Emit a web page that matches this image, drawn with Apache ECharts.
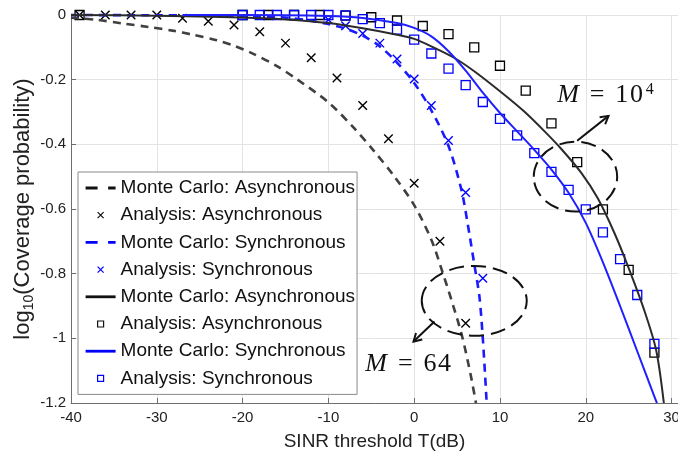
<!DOCTYPE html>
<html><head><meta charset="utf-8">
<script src="https://cdn.jsdelivr.net/npm/echarts/dist/echarts.min.js"></script>
<style>html,body{margin:0;padding:0;background:#fff}#c{width:678px;height:458px}</style>
</head><body><div id="c"></div>
<script>
// ---------------- data ----------------
// Monte Carlo, Asynchronous, M = 64 (black dashed)
const mcAsync64X = [-40, -37, -34, -31, -28, -26, -23, -21, -19, -16, -13.6, -10, -7, -4.7, -2.3, 0, 2, 3.3, 4.5, 5.6, 6.6, 7.2];
const mcAsync64Y = [-0.008, -0.015, -0.026, -0.037, -0.049, -0.06, -0.078, -0.095, -0.117, -0.158, -0.2, -0.27, -0.35, -0.42, -0.5, -0.588, -0.695, -0.795, -0.895, -0.995, -1.115, -1.2];
// Analysis, Asynchronous, M = 64 (black x)
const anAsync64X = [-39, -36, -33, -30, -27, -24, -21, -18, -15, -12, -9, -6, -3, 0, 3, 6];
const anAsync64Y = [0, 0, 0, 0, -0.010, -0.019, -0.031, -0.052, -0.087, -0.132, -0.195, -0.280, -0.383, -0.520, -0.700, -0.953];
// Monte Carlo, Synchronous, M = 64 (blue dashed)
const mcSync64X = [-40, -30, -20, -15, -12, -10, -8, -6, -4, -2, 0, 2, 4, 5.5, 6.2, 7, 7.6, 8, 8.45];
const mcSync64Y = [0, -0.001, -0.003, -0.008, -0.018, -0.028, -0.042, -0.064, -0.097, -0.147, -0.21, -0.295, -0.405, -0.54, -0.64, -0.77, -0.87, -1.0, -1.2];
// Analysis, Synchronous, M = 64 (blue x)
const anSync64X = [-10, -8, -6, -4, -2, 0, 2, 4, 6, 8];
const anSync64Y = [-0.015, -0.033, -0.057, -0.087, -0.136, -0.198, -0.280, -0.388, -0.549, -0.814];
// Monte Carlo, Asynchronous, M = 10^4 (black solid)
const mcAsyncBigX = [-40, -30, -20, -15, -10, -6, -2, 0, 2, 4.7, 7, 10, 12.8, 15.2, 17.1, 19.5, 21.4, 23.3, 24.9, 26.8, 28.2, 29.1];
const mcAsyncBigY = [0, -0.002, -0.008, -0.014, -0.025, -0.041, -0.061, -0.074, -0.097, -0.133, -0.174, -0.236, -0.298, -0.36, -0.413, -0.489, -0.567, -0.672, -0.776, -0.912, -1.036, -1.2];
// Analysis, Asynchronous, M = 10^4 (black squares)
const anAsyncBigX = [-39, -20, -17, -14, -11, -8, -5, -2, 1, 4, 7, 10, 13, 16, 19, 22, 25, 28];
const anAsyncBigY = [0, 0, 0, 0, 0, -0.002, -0.007, -0.017, -0.034, -0.059, -0.100, -0.157, -0.234, -0.335, -0.455, -0.601, -0.788, -1.044];
// Monte Carlo, Synchronous, M = 10^4 (blue solid)
const mcSyncBigX = [-27, -20, -10, -6, -2, 0, 2, 4, 6, 8, 10, 12, 14, 16, 18, 20, 22, 24, 26, 28, 28.3];
const mcSyncBigY = [0, 0, -0.003, -0.009, -0.025, -0.04, -0.066, -0.112, -0.172, -0.24, -0.303, -0.36, -0.417, -0.478, -0.55, -0.643, -0.765, -0.9, -1.04, -1.18, -1.2];
// Analysis, Synchronous, M = 10^4 (blue squares)
const anSyncBigX = [-20, -18, -16, -14, -12, -10, -8, -6, -4, -2, 0, 2, 4, 6, 8, 10, 12, 14, 16, 18, 20, 22, 24, 26, 28];
const anSyncBigY = [0, 0, 0, 0, 0, 0, -0.001, -0.013, -0.025, -0.045, -0.076, -0.119, -0.166, -0.217, -0.269, -0.321, -0.372, -0.427, -0.485, -0.541, -0.601, -0.672, -0.755, -0.866, -1.017];

// legend labels (in legend order)
const legendKeys = ['k1', 'k2', 'k3', 'k4', 'k5', 'k6', 'k7', 'k8'];
const legendLabels = ['Monte Carlo: Asynchronous', 'Analysis: Asynchronous', 'Monte Carlo: Synchronous', 'Analysis: Synchronous',
                      'Monte Carlo: Asynchronous', 'Analysis: Asynchronous', 'Monte Carlo: Synchronous', 'Analysis: Synchronous'];
const xTicks = { min: -40, max: 30.75, step: 10 };
const yTicks = { min: -1.2, max: 0, step: 0.2 };

// ---------------- styles ----------------
const FONT = 'Liberation Sans, Arial, sans-serif';
const BLK_D = '#404040', BLUE_D = '#1a1aff', BLK_S = '#2b2b2b', BLUE_S = '#2020ff';
const BLK_M = '#000000', BLUE_M = '#0000ff';
const X_PATH = 'path://M0,0L10,10M10,0L0,10';
const ICON_DASH = 'path://M0,0M30,14M0,5.6h12v2.8h-12zM22.5,5.6h7.5v2.8h-7.5z';
const ICON_SOLID = 'path://M0,0M30,14M0,5.6h30v2.8h-30z';
const ICON_X = 'path://M0,0M30,14M12,4L18,10M18,4L12,10';
const ICON_SQ = 'path://M0,0M30,14M12,4L18,4L18,10L12,10Z';

const zip = (xs, ys) => xs.map((x, i) => [x, ys[i]]);

function lineSeries(name, xs, ys, color, dashed, width) {
  return {
    name, type: 'line', data: zip(xs, ys), symbol: 'none', showSymbol: false,
    smooth: 0.3, clip: false, animation: false, silent: true,
    color: color, itemStyle: { color: color },
    lineStyle: { color: color, width: width, type: dashed ? [8, 6] : 'solid' }
  };
}
function scatterSeries(name, xs, ys, color, symbol, size, bw) {
  return {
    name, type: 'scatter', data: zip(xs, ys), symbol: symbol, symbolSize: size,
    clip: false, animation: false, silent: true,
    itemStyle: { color: 'transparent', borderColor: color, borderWidth: bw, opacity: 1 }
  };
}

const series = [
  lineSeries('k1', mcAsync64X, mcAsync64Y, BLK_D, true, 2.6),
  lineSeries('k3', mcSync64X, mcSync64Y, BLUE_D, true, 2.6),
  lineSeries('k5', mcAsyncBigX, mcAsyncBigY, BLK_S, false, 2),
  lineSeries('k7', mcSyncBigX, mcSyncBigY, BLUE_S, false, 2),
  scatterSeries('k2', anAsync64X, anAsync64Y, BLK_M, X_PATH, 8.5, 1.4),
  scatterSeries('k4', anSync64X, anSync64Y, BLUE_M, X_PATH, 8.5, 1.4),
  scatterSeries('k6', anAsyncBigX, anAsyncBigY, BLK_M, 'rect', 9, 1.3),
  scatterSeries('k8', anSyncBigX, anSyncBigY, BLUE_M, 'rect', 9, 1.3)
];

const legendIcons = [ICON_DASH, ICON_X, ICON_DASH, ICON_X, ICON_SOLID, ICON_SQ, ICON_SOLID, ICON_SQ];
const legendStyles = [
  { color: '#111', borderWidth: 0 },
  { color: 'transparent', borderColor: '#111', borderWidth: 1.2 },
  { color: BLUE_M, borderWidth: 0 },
  { color: 'transparent', borderColor: BLUE_M, borderWidth: 1.2 },
  { color: '#111', borderWidth: 0 },
  { color: 'transparent', borderColor: '#111', borderWidth: 1.2 },
  { color: BLUE_M, borderWidth: 0 },
  { color: 'transparent', borderColor: BLUE_M, borderWidth: 1.2 }
];

const option = {
  animation: false,
  backgroundColor: '#ffffff',
  grid: { left: 71, right: 0, top: 15, bottom: 55, containLabel: false, outerBoundsMode: 'none' },
  xAxis: {
    type: 'value', min: xTicks.min, max: xTicks.max, interval: xTicks.step,
    name: 'SINR threshold T(dB)', nameLocation: 'middle', nameGap: 29, nameMoveOverlap: false,
    nameTextStyle: { fontFamily: FONT, fontSize: 19, color: '#222' },
    axisLine: { show: true, onZero: false, lineStyle: { color: '#6e6e6e', width: 1 } },
    axisTick: { show: true, inside: true, length: 5, lineStyle: { color: '#6e6e6e' } },
    axisLabel: {
      fontFamily: FONT, fontSize: 15, color: '#222', margin: 7,
      formatter: v => (Math.abs(v / xTicks.step - Math.round(v / xTicks.step)) < 1e-6 ? String(Math.round(v)) : '')
    },
    splitLine: { show: true, lineStyle: { color: '#e3e3e3', width: 1 } }
  },
  yAxis: {
    type: 'value', min: yTicks.min, max: yTicks.max, interval: yTicks.step,
    name: '{a|log}{b|10}{a|(Coverage probability)}', nameLocation: 'middle', nameGap: 35, nameRotate: 90,
    nameMoveOverlap: false,
    nameTextStyle: {
      fontFamily: FONT, fontSize: 22, color: '#222',
      rich: {
        a: { fontFamily: FONT, fontSize: 22, color: '#222', lineHeight: 26, verticalAlign: 'middle' },
        b: { fontFamily: FONT, fontSize: 14, color: '#222', lineHeight: 14, verticalAlign: 'bottom' }
      }
    },
    axisLine: { show: true, onZero: false, lineStyle: { color: '#6e6e6e', width: 1 } },
    axisTick: { show: true, inside: true, length: 5, lineStyle: { color: '#6e6e6e' } },
    axisLabel: {
      fontFamily: FONT, fontSize: 15, color: '#222', margin: 5,
      formatter: v => String(parseFloat(v.toFixed(1)))
    },
    splitLine: { show: true, lineStyle: { color: '#e3e3e3', width: 1 } }
  },
  legend: {
    show: true, orient: 'vertical', left: 78, top: 172,
    padding: [6, 2, 6, 7], itemGap: 7.2, itemWidth: 30, itemHeight: 14,
    backgroundColor: '#ffffff', borderColor: '#8a8a8a', borderWidth: 1, borderRadius: 0,
    selectedMode: false, symbolKeepAspect: true,
    textStyle: { fontFamily: FONT, fontSize: 19, color: '#111', lineHeight: 20 },
    formatter: name => legendLabels[legendKeys.indexOf(name)],
    data: legendKeys.map((k, i) => ({ name: k, icon: legendIcons[i], itemStyle: legendStyles[i] }))
  },
  series: series
};

const chart = echarts.init(document.getElementById('c'), null, { renderer: 'canvas' });
chart.setOption(option);

// ---------------- annotations (anchored in data coordinates) ----------------
const annotEllipses = [
  { center: [18.8, -0.50], rx: 4.86, ry: 0.108 },
  { center: [7.0, -0.884], rx: 6.12, ry: 0.108 }
];
const annotArrows = [
  { from: [19.0, -0.389], to: [22.65, -0.312] },
  { from: [2.37, -0.948], to: [-0.08, -1.01] }
];
const annotTexts = [
  { at: [16.67, -0.247], text: '{m|M}{e|=}{n|1}{n|0}{p|4}' },
  { at: [-5.7, -1.079], text: '{m|M}{e|=}{n|6}{n|4}' }
];

const toPx = p => chart.convertToPixel({ gridIndex: 0 }, p);
const graphics = [];
annotEllipses.forEach(e => {
  const c = toPx(e.center);
  const rx = toPx([e.center[0] + e.rx, e.center[1]])[0] - c[0];
  const ry = c[1] - toPx([e.center[0], e.center[1] + e.ry])[1];
  graphics.push({ type: 'ellipse', silent: true, z: 100,
    shape: { cx: c[0], cy: c[1], rx: rx, ry: ry },
    style: { fill: 'none', stroke: '#111', lineWidth: 2, lineDash: [15, 7] } });
});
annotArrows.forEach(a => {
  const p1 = toPx(a.from), p2 = toPx(a.to);
  const ang = Math.atan2(p2[1] - p1[1], p2[0] - p1[0]);
  const hl = 9, ha = Math.PI / 6;
  const h1 = [p2[0] - hl * Math.cos(ang - ha), p2[1] - hl * Math.sin(ang - ha)];
  const h2 = [p2[0] - hl * Math.cos(ang + ha), p2[1] - hl * Math.sin(ang + ha)];
  graphics.push({ type: 'line', silent: true, z: 100,
    shape: { x1: p1[0], y1: p1[1], x2: p2[0], y2: p2[1] },
    style: { stroke: '#111', lineWidth: 2 } });
  graphics.push({ type: 'polyline', silent: true, z: 100,
    shape: { points: [h1, p2, h2] },
    style: { stroke: '#111', lineWidth: 2, fill: 'none' } });
});
const SERIF = 'Liberation Serif, Times New Roman, serif';
annotTexts.forEach(t => {
  const p = toPx(t.at);
  graphics.push({ type: 'text', silent: true, z: 100, x: p[0], y: p[1],
    style: {
      text: t.text, align: 'left', verticalAlign: 'middle', fill: '#111',
      rich: {
        m: { fontFamily: SERIF, fontStyle: 'italic', fontSize: 26, lineHeight: 26, verticalAlign: 'middle', fill: '#111' },
        e: { fontFamily: SERIF, fontSize: 26, lineHeight: 26, padding: [0, 10, 0, 11], verticalAlign: 'middle', fill: '#111' },
        n: { fontFamily: SERIF, fontSize: 26, lineHeight: 26, padding: [0, 0.8, 0, 0.8], verticalAlign: 'middle', fill: '#111' },
        p: { fontFamily: SERIF, fontSize: 16, lineHeight: 16, padding: [0, 0, 0, 2], verticalAlign: 'top', fill: '#111' }
      }
    } });
});
chart.setOption({ graphic: graphics });
</script>
</body></html>
